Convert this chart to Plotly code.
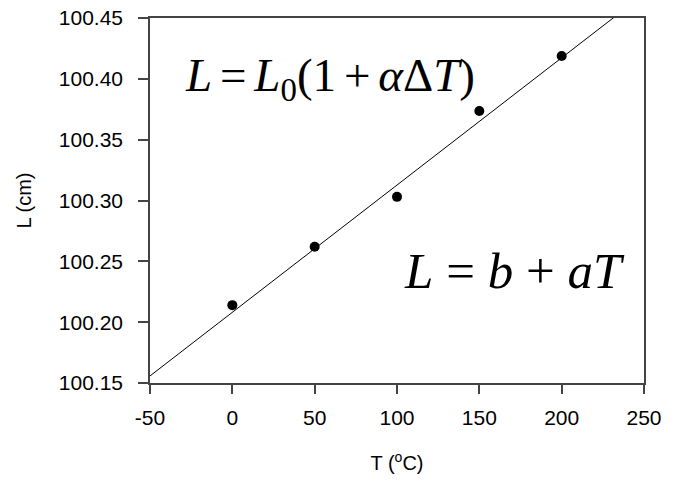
import plotly.graph_objects as go

# Data
T_data = [0, 50, 100, 150, 200]
L_data = [100.214, 100.262, 100.303, 100.3736, 100.4188]

# Fitted straight line endpoints
fit_T = [-50, 250]
fit_L = [100.1558, 100.4696]

x_ticks = [-50, 0, 50, 100, 150, 200, 250]
y_ticks = [100.15, 100.20, 100.25, 100.30, 100.35, 100.40, 100.45]

fig = go.Figure()
fig.add_trace(go.Scatter(x=fit_T, y=fit_L, mode="lines",
                         line=dict(color="black", width=1), showlegend=False))
fig.add_trace(go.Scatter(x=T_data, y=L_data, mode="markers",
                         marker=dict(color="black", size=10), showlegend=False,
                         cliponaxis=False))

axis_common = dict(showgrid=False, zeroline=False, showline=True, linecolor="#444",
                   linewidth=1.5, mirror=True, ticks="outside", tickcolor="#444",
                   tickwidth=1.5,
                   tickfont=dict(family="Liberation Sans, Arial", size=21, color="black"))

title_font = dict(family="Liberation Sans, Arial", size=20, color="black")

fig.update_xaxes(range=[-50, 250], tickvals=x_ticks, ticktext=[str(v) for v in x_ticks],
                 ticklen=9, ticklabelstandoff=6,
                 title=dict(text="T (<sup>o</sup>C)", standoff=28, font=title_font),
                 **axis_common)
fig.update_yaxes(range=[100.15, 100.45], tickvals=y_ticks,
                 ticktext=[f"{v:.2f}" for v in y_ticks],
                 ticklen=10, ticklabelstandoff=11,
                 title=dict(text="L (cm)", standoff=22, font=title_font),
                 **axis_common)

sp = "\u2006"
fig.add_annotation(x=-30, y=100.400, xref="x", yref="y", xanchor="left", yanchor="middle",
                   showarrow=False,
                   font=dict(family="Liberation Serif, Times New Roman", size=47, color="black"),
                   text=f"<i>L</i>{sp}={sp}<i>L</i><sub>0</sub>(1{sp}+{sp}<i>α</i>Δ<i>T</i>)")
fig.add_annotation(x=103, y=100.242, xref="x", yref="y", xanchor="left", yanchor="middle",
                   showarrow=False,
                   font=dict(family="Liberation Serif, Times New Roman", size=51, color="black"),
                   text="<i>L</i> = <i>b</i> + <i>aT</i>")

fig.update_layout(width=697, height=482, plot_bgcolor="white", paper_bgcolor="white",
                  margin=dict(l=150, r=53, t=18, b=99, autoexpand=False))

fig.write_html("out.html", config={"displayModeBar": False},
               post_script="document.body.style.margin='0';document.body.style.overflow='hidden';")
